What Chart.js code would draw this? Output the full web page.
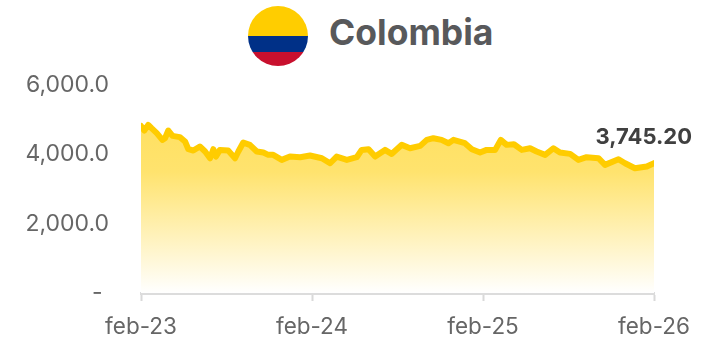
<!DOCTYPE html>
<html>
<head>
<meta charset="utf-8">
<title>Colombia</title>
<script src="https://cdn.jsdelivr.net/npm/chart.js@4/dist/chart.umd.min.js"></script>
<style>
  html, body { margin: 0; background: #fff; width: 717px; height: 340px; overflow: hidden; }
  #flag { position: absolute; left: 248px; top: 6px; width: 60px; height: 60px; border-radius: 50%;
    background: linear-gradient(#ffcd00 0 50%, #003087 50% 76%, #c8102e 76%); }
  #name { position: absolute; left: 329px; top: 10px; font: 700 35.5px Inter, sans-serif; color: #58595b; line-height: 46px; }
  #box { position: absolute; left: 0; top: 0; width: 717px; height: 340px; }
</style>
</head>
<body>
<div id="flag"></div>
<div id="name">Colombia</div>
<div id="box"><canvas id="c"></canvas></div>
<script>
// weeks since feb-23 and the index level
const weeks = [0, 1, 2.2, 3.2, 4.8, 6.5, 7.3, 8.3, 9.6, 11.8, 13.4, 14.4, 15.9, 17.9, 19.5, 21, 22, 22.8, 24, 26.5,
  28.6, 29.6, 31.1, 33.1, 35.2, 37.2, 38.7, 40.2, 42.8, 45.3, 48.4, 51.4, 55, 57.5, 59.5, 62.6, 65.6, 67.1, 69.2, 71.2,
  74.2, 76.2, 79.3, 81.8, 84.9, 86.9, 88.9, 91.4, 93.5, 95, 98.5, 100.6, 103.1, 105.1, 107.7, 109.4, 111.2, 113.4, 115.8, 118.3,
  120.3, 122.9, 125.4, 127.4, 130.5, 133, 135.5, 139.1, 141.1, 145.2, 147.2, 150.2, 153.8, 156];
const level = [4821, 4687, 4850, 4754, 4610, 4417, 4465, 4687, 4533, 4495, 4369, 4148, 4110, 4225, 4081, 3888, 4148, 3936, 4128, 4110,
  3888, 4081, 4340, 4273, 4081, 4052, 3985, 3985, 3840, 3936, 3917, 3965, 3888, 3743, 3936, 3840, 3917, 4128, 4148, 3936,
  4128, 4013, 4273, 4176, 4244, 4417, 4465, 4417, 4321, 4417, 4321, 4148, 4052, 4128, 4128, 4417, 4273, 4292, 4128, 4176,
  4081, 3985, 4176, 4052, 4013, 3840, 3917, 3888, 3696, 3859, 3744, 3599, 3648, 3745.2];
const tickWeeks = [0, 52, 104, 156];
const tickLabels = ['feb-23', 'feb-24', 'feb-25', 'feb-26'];
const yTicks = [0, 2000, 4000, 6000];
const yLabels = ['-\u00a0', '2,000.0', '4,000.0', '6,000.0'];
const lastLabel = '3,745.20';

const FONT = "Inter, sans-serif";
const GREY = '#666666';

// Value printed above the last point of the line.
const endLabel = {
  id: 'endLabel',
  afterDatasetsDraw(chart) {
    const { ctx, scales: { x } } = chart;
    ctx.save();
    ctx.font = `700 22px ${FONT}`;
    ctx.fillStyle = '#404040';
    ctx.textAlign = 'right';
    ctx.textBaseline = 'middle';
    ctx.fillText(lastLabel, x.getPixelForValue(weeks[weeks.length - 1]) + 38, 137);
    ctx.restore();
  },
};

new Chart(document.getElementById('c').getContext('2d'), {
  type: 'line',
  data: {
    datasets: [{
      data: weeks.map((w, i) => ({ x: w, y: level[i] })),
      borderColor: '#ffcc00',
      borderWidth: 6,
      borderCapStyle: 'round',
      borderJoinStyle: 'round',
      pointRadius: 0,
      tension: 0,
      fill: true,
      backgroundColor: ctx => {
        const { ctx: c, chartArea } = ctx.chart;
        if (!chartArea) return 'transparent';
        const g = c.createLinearGradient(0, 120, 0, chartArea.bottom);
        g.addColorStop(0, '#ffe060');
        g.addColorStop(0.3, '#ffe36e');
        g.addColorStop(1, '#ffffff');
        return g;
      },
    }],
  },
  options: {
    responsive: true, maintainAspectRatio: false, animation: false,
    layout: { padding: { top: 85, right: 63, left: 0, bottom: 0 } },
    plugins: { legend: { display: false }, tooltip: { enabled: false } },
    scales: {
      x: {
        type: 'linear', min: 0, max: 156,
        afterBuildTicks: s => { s.ticks = tickWeeks.map(v => ({ value: v })); },
        afterFit: s => { s.height = 47; },
        grid: { drawOnChartArea: false, tickLength: 8, tickColor: '#d9d9d9', tickWidth: 2 },
        border: { color: '#dcdcdc', width: 3 },
        ticks: {
          autoSkip: false, maxRotation: 0, padding: 13, color: GREY, font: { family: FONT, size: 22.5 },
          callback: v => tickLabels[tickWeeks.indexOf(v)],
        },
      },
      y: {
        min: 0, max: 6000,
        afterBuildTicks: s => { s.ticks = yTicks.map(v => ({ value: v })); },
        afterFit: s => { s.width = 141; },
        grid: { display: false },
        border: { display: false },
        ticks: {
          padding: 24, color: GREY, font: { family: FONT, size: 23 },
          callback: v => yLabels[yTicks.indexOf(v)],
        },
      },
    },
  },
  plugins: [endLabel],
});
</script>
</body>
</html>
